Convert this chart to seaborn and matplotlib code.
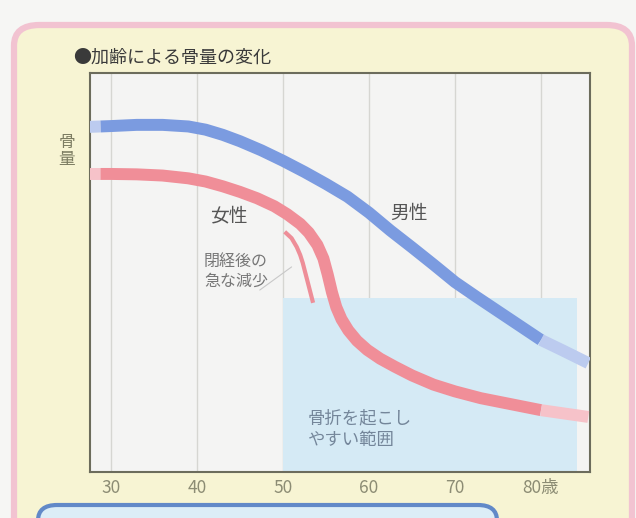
import numpy as np
import pandas as pd
import matplotlib
matplotlib.use("Agg")
import matplotlib.pyplot as plt
from matplotlib.patches import FancyBboxPatch
import seaborn as sns

# ---- data (bone mass index 0-100) ----
male_age = [27.5, 28.8, 30, 33, 36, 39, 41, 43, 45, 47.5, 50, 52.5, 55, 57.5, 60,
            62.5, 65, 67.5, 70, 72.5, 75, 77.5, 80, 82.5, 85.5]
male_mass = [86.5, 86.6, 86.7, 87.0, 87.0, 86.6, 85.8, 84.5, 82.9, 80.6, 78.0, 75.2, 72.2,
             69.0, 65.0, 60.5, 56.3, 52.0, 47.6, 43.9, 40.3, 36.7, 33.1, 30.5, 27.3]

female_age = [27.5, 28.8, 30, 33, 36, 39, 41, 43, 45, 47, 49, 50.5, 52, 53, 54, 54.7,
              55.2, 55.7, 56.2, 56.8, 57.6, 58.6, 59.8, 61.3, 63, 65, 67.5, 70, 73,
              76.5, 80, 85.5]
female_mass = [74.7, 74.7, 74.7, 74.6, 74.3, 73.6, 72.8, 71.6, 70.2, 68.6, 66.6, 64.6,
               62.2, 60.0, 56.9, 53.5, 49.5, 45.0, 41.3, 38.3, 35.5, 32.9, 30.6, 28.4,
               26.4, 24.2, 21.9, 20.2, 18.5, 17.0, 15.5, 13.8]

drop_age = [50.2, 51.0, 51.6, 52.0, 52.3, 52.6, 52.9, 53.5]
drop_mass = [60.2, 58.6, 56.4, 54.4, 52.4, 49.9, 47.4, 42.4]

pointer_age = [47.3, 51.0]
pointer_mass = [45.6, 51.4]

risk_start, risk_end, risk_level = 50, 84.2, 43.6

tick_values = [30, 40, 50, 60, 70, 80]
tick_labels = ["30", "40", "50", "60", "70", "80歳"]

title = "●加齢による骨量の変化"
ylabel = "骨\n量"
label_female = "女性"
label_male = "男性"
label_drop = "閉経後の\n急な減少"
label_risk = "骨折を起こし\nやすい範囲"

# ---- style ----
sns.set_style("white")
plt.rcParams["font.family"] = ["Noto Sans CJK JP", "DejaVu Sans"]

W, H = 636, 518
fig = plt.figure(figsize=(W / 100, H / 100), dpi=100)
fig.patch.set_facecolor("#f6f6f4")

def fx(x):
    return x / W

def fy(y):
    return 1 - y / H

# outer pink-bordered cream panel
panel = FancyBboxPatch((fx(14), fy(575)), fx(618), 575 / H - 25 / H,
                       boxstyle="round,pad=0,rounding_size=0.04",
                       transform=fig.transFigure, facecolor="#f7f4d3",
                       edgecolor="#f2c3d1", linewidth=4.5, zorder=-2)
fig.patches.append(panel)

# bottom blue box (partially visible)
bbox = FancyBboxPatch((fx(38), fy(560)), fx(459), 55 / H,
                      boxstyle="round,pad=0,rounding_size=0.03",
                      transform=fig.transFigure, facecolor="#dcedf7",
                      edgecolor="#6289c8", linewidth=3, zorder=-1)
fig.patches.append(bbox)

ax = fig.add_axes([fx(90), fy(472), fx(500), (472 - 73) / H])
ax.set_zorder(3)
ax.set_facecolor("#f4f4f3")

# risk zone
ax.fill_between([risk_start, risk_end], 0, risk_level, color="#d5eaf5", lw=0, zorder=1)

# grid
ax.set_xticks(tick_values)
ax.grid(axis="x", color="#d6d6d2", lw=1, zorder=1.5)
ax.grid(axis="y", visible=False)

male = pd.DataFrame({"age": male_age, "mass": male_mass})
female = pd.DataFrame({"age": female_age, "mass": female_mass})

lw = 8.6
def seg(df, lo, hi):
    return df[(df.age >= lo) & (df.age <= hi)]

for df, main_c, faded_c in [(male, "#7b9be0", "#bccbef"), (female, "#f08e98", "#f6c2c9")]:
    sns.lineplot(data=seg(df, 0, 28.8), x="age", y="mass", ax=ax, color=faded_c, lw=lw,
                 sort=False, solid_capstyle="butt", zorder=3)
    sns.lineplot(data=seg(df, 28.8, 80), x="age", y="mass", ax=ax, color=main_c, lw=lw,
                 sort=False, solid_capstyle="butt", solid_joinstyle="round", zorder=3)
    sns.lineplot(data=seg(df, 80, 100), x="age", y="mass", ax=ax, color=faded_c, lw=lw,
                 sort=False, solid_capstyle="butt", solid_joinstyle="round", zorder=3)

drop = pd.DataFrame({"age": drop_age, "mass": drop_mass})
sns.lineplot(data=drop, x="age", y="mass", ax=ax, color="#ee8e98", lw=3, sort=False,
             solid_capstyle="butt", solid_joinstyle="round", zorder=3)
ax.plot(pointer_age, pointer_mass, color="#c8c8c8", lw=0.8, zorder=2.5)

ax.set_xlim(27.56, 85.7)
ax.set_ylim(0, 100)
ax.set_xlabel("")
ax.set_ylabel("")
ax.set_yticks([])
ax.set_xticklabels(tick_labels, color="#8c8c74", fontsize=12.5)
ax.tick_params(axis="x", length=0, pad=5)
for s in ax.spines.values():
    s.set_color("#6c6c5c")
    s.set_linewidth(1.5)

# texts
fig.text(fx(73), fy(58), title, fontsize=13, color="#3a3a3a", ha="left", va="center",
         zorder=5)
fig.text(fx(67), fy(151), ylabel, fontsize=12, color="#7c7c62", ha="center", va="center",
         linespacing=1.05, zorder=5)
for txt, x, y, fs, c, ha, ls in [
        (label_female, 229, 216, 13.5, "#555555", "center", 1.2),
        (label_male, 409, 213, 13.5, "#555555", "center", 1.2),
        (label_drop, 236, 271, 11.5, "#777777", "center", 1.2),
        (label_risk, 308, 429, 12.5, "#74869a", "left", 1.25)]:
    fig.text(fx(x), fy(y), txt, fontsize=fs, color=c, ha=ha, va="center",
             linespacing=ls, zorder=6)

fig.savefig("out.png", dpi=100, facecolor=fig.get_facecolor())
